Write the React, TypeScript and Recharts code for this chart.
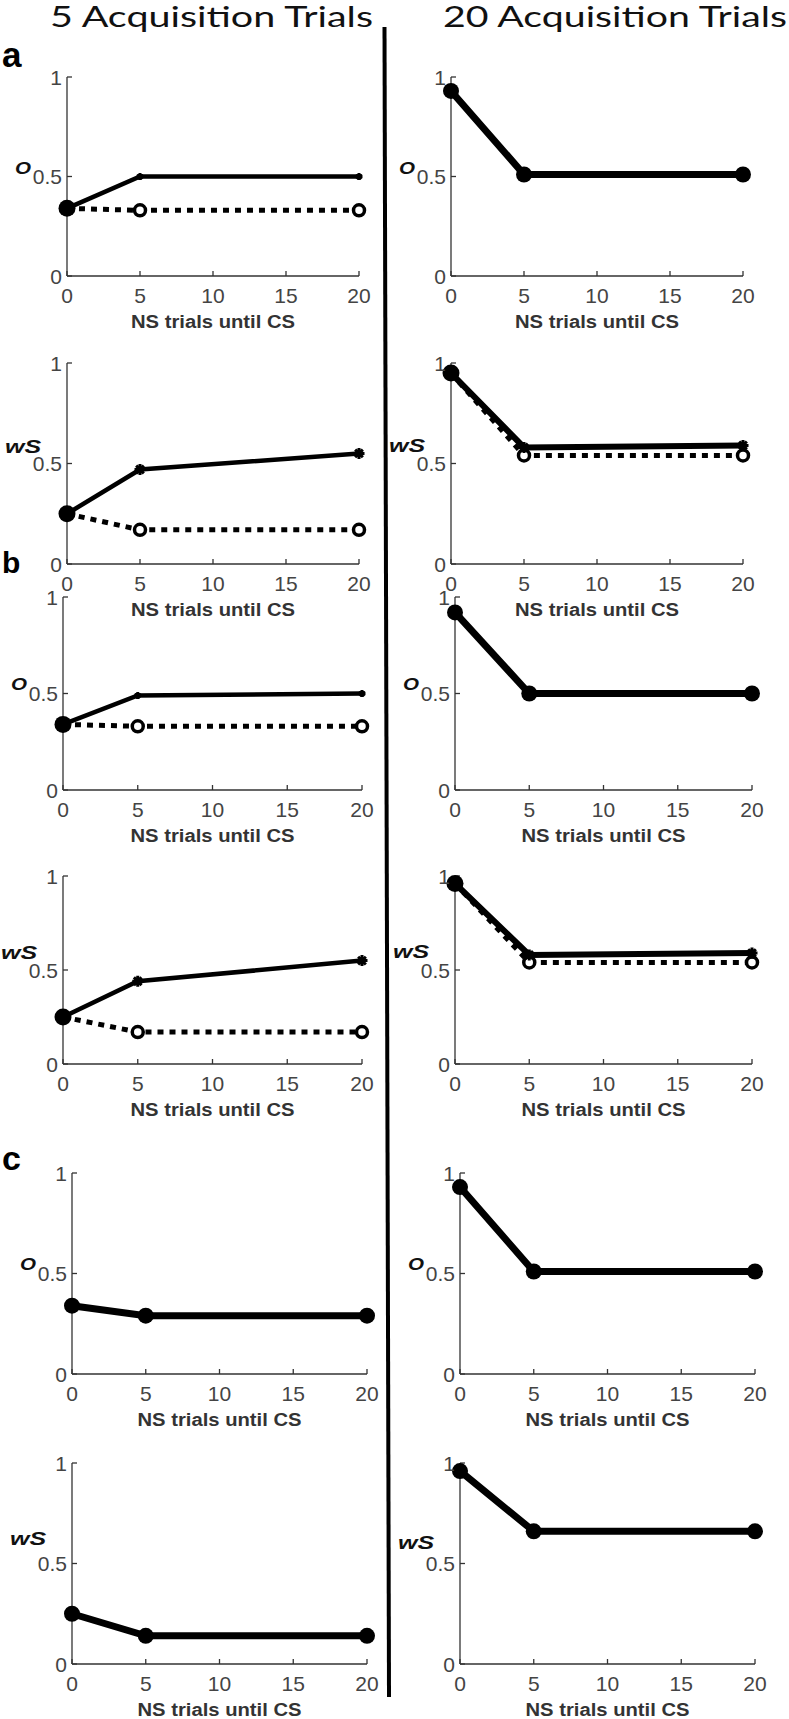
import React from "react";
import { LineChart, Line, XAxis, YAxis } from "recharts";

// x positions (NS trials until CS) and axis ticks
const trials = [0, 5, 20];
const xTicks = [0, 5, 10, 15, 20];
const yTicks = [0, 0.5, 1];
const columnTitles = ["5 Acquisition Trials", "20 Acquisition Trials"];
const panelLetters = ["a", "b", "c"];
const xLabel = "NS trials until CS";

// a
const aO5Solid = [0.34, 0.5, 0.5];
const aO5Dotted = [0.34, 0.33, 0.33];
const aWs5Solid = [0.25, 0.47, 0.55];
const aWs5Dotted = [0.25, 0.17, 0.17];
const aO20Solid = [0.93, 0.51, 0.51];
const aWs20Solid = [0.95, 0.58, 0.59];
const aWs20Dotted = [0.95, 0.54, 0.54];

// b
const bO5Solid = [0.34, 0.49, 0.5];
const bO5Dotted = [0.34, 0.33, 0.33];
const bWs5Solid = [0.25, 0.44, 0.55];
const bWs5Dotted = [0.25, 0.17, 0.17];
const bO20Solid = [0.92, 0.5, 0.5];
const bWs20Solid = [0.96, 0.58, 0.59];
const bWs20Dotted = [0.96, 0.54, 0.54];

// c
const cO5Solid = [0.34, 0.29, 0.29];
const cWs5Solid = [0.25, 0.14, 0.14];
const cO20Solid = [0.93, 0.51, 0.51];
const cWs20Solid = [0.96, 0.66, 0.66];

const SANS = "'Liberation Sans', Arial, sans-serif";

const panels = [
  { box: [67, 359, 77, 276], yLabel: "O", dy: -9, solid: aO5Solid, dotted: aO5Dotted, kind: "short", star: 3.5 },
  { box: [451, 743, 77, 276], yLabel: "O", dy: -9, solid: aO20Solid, kind: "thick" },
  { box: [67, 359, 363, 564], yLabel: "wS", dy: -18, solid: aWs5Solid, dotted: aWs5Dotted, kind: "short", star: 5.5 },
  { box: [451, 743, 363, 564], yLabel: "wS", dy: -19, solid: aWs20Solid, dotted: aWs20Dotted, kind: "pair", star: 5.5 },
  { box: [63, 362, 597, 790], yLabel: "O", dy: -10, solid: bO5Solid, dotted: bO5Dotted, kind: "short", star: 3.5 },
  { box: [455, 752, 597, 790], yLabel: "O", dy: -10, solid: bO20Solid, kind: "thick" },
  { box: [63, 362, 876, 1064], yLabel: "wS", dy: -18, solid: bWs5Solid, dotted: bWs5Dotted, kind: "short", star: 5.5 },
  { box: [455, 752, 876, 1064], yLabel: "wS", dy: -19, solid: bWs20Solid, dotted: bWs20Dotted, kind: "pair", star: 5.5 },
  { box: [72, 367, 1173, 1374], yLabel: "O", dy: -10, solid: cO5Solid, kind: "thick" },
  { box: [460, 755, 1173, 1374], yLabel: "O", dy: -10, solid: cO20Solid, kind: "thick" },
  { box: [72, 367, 1463, 1664], yLabel: "wS", dy: -26, solid: cWs5Solid, kind: "thick" },
  { box: [460, 755, 1463, 1664], yLabel: "wS", dy: -22, solid: cWs20Solid, kind: "thick" },
];

function XTitle(props: any) {
  const vb = props.viewBox || {};
  return (
    <text
      x={vb.x + vb.width / 2}
      y={vb.y + 52}
      textAnchor="middle"
      fill="#333"
      fontSize={18}
      fontWeight="bold"
      fontFamily={SANS}
      textLength={164}
      lengthAdjust="spacingAndGlyphs"
    >
      {xLabel}
    </text>
  );
}

function YTitle(props: any) {
  const vb = props.viewBox || {};
  const isO = props.text === "O";
  return (
    <text
      x={vb.x + vb.width - 44}
      y={vb.y + vb.height / 2 + props.dy + (isO ? 6 : 7)}
      textAnchor="middle"
      fill="#111"
      fontSize={isO ? 17 : 19}
      fontWeight="bold"
      fontStyle="italic"
      fontFamily={SANS}
      textLength={isO ? 16 : 36}
      lengthAdjust="spacingAndGlyphs"
    >
      {props.text}
    </text>
  );
}

const XTick = (props: any) => (
  <text x={props.x} y={props.y + 15} textAnchor="middle" fill="#444" fontSize={21} fontFamily={SANS}>
    {props.payload.value}
  </text>
);

const YTick = (props: any) => (
  <text x={props.x} y={props.y + 7.5} textAnchor="end" fill="#444" fontSize={21} fontFamily={SANS}>
    {String(props.payload.value)}
  </text>
);

const star = (cx: number, cy: number, s: number, key: any) => {
  const d = s * 0.7;
  return (
    <path
      key={key}
      d={`M${cx - s},${cy}H${cx + s}M${cx},${cy - s}V${cy + s}M${cx - d},${cy - d}L${cx + d},${cy + d}M${cx - d},${cy + d}L${cx + d},${cy - d}`}
      stroke="#000"
      strokeWidth={3}
    />
  );
};

const leadDot = (s: number) => (p: any) =>
  p.index === 0 ? (
    <circle key={p.index} cx={p.cx} cy={p.cy} r={8.5} fill="#000" />
  ) : (
    star(p.cx, p.cy, s, p.index)
  );

const filledDot = (p: any) => <circle key={p.index} cx={p.cx} cy={p.cy} r={8} fill="#000" />;

const openDot = (p: any) => (
  <circle key={p.index} cx={p.cx} cy={p.cy} r={5.5} fill="#fff" stroke="#000" strokeWidth={3.5} />
);

function Panel({ p }: { p: any }) {
  const [x0, x1, top, bottom] = p.box;
  const yW = 65;
  const xH = 62;
  const mt = 20;
  const mr = 30;
  const data = trials.map((x, i) => ({
    x,
    solid: p.solid[i],
    dotted: p.dotted ? p.dotted[i] : undefined,
  }));
  return (
    <div style={{ position: "absolute", left: x0 - yW, top: top - mt }}>
      <LineChart
        width={x1 - x0 + yW + mr}
        height={bottom - top + mt + xH}
        data={data}
        margin={{ top: mt, right: mr, bottom: 0, left: 0 }}
      >
        <XAxis
          type="number"
          dataKey="x"
          domain={[0, 20]}
          ticks={xTicks}
          height={xH}
          tickSize={-5}
          tickMargin={17}
          stroke="#333"
          strokeWidth={1.3}
          tick={XTick}
          label={<XTitle />}
        />
        <YAxis
          type="number"
          domain={[0, 1]}
          ticks={yTicks}
          width={yW}
          tickSize={-5}
          tickMargin={10}
          stroke="#333"
          strokeWidth={1.3}
          tick={YTick}
          label={<YTitle text={p.yLabel} dy={p.dy} />}
        />
        {p.dotted && (
          <Line
            type="linear"
            dataKey="dotted"
            stroke="#000"
            strokeWidth={5}
            strokeDasharray="6 6"
            dot={openDot}
            activeDot={false}
            isAnimationActive={false}
          />
        )}
        <Line
          type="linear"
          dataKey="solid"
          stroke="#000"
          strokeWidth={p.kind === "short" ? 4.5 : p.kind === "pair" ? 6 : 7}
          dot={p.kind === "thick" ? filledDot : leadDot(p.star)}
          activeDot={false}
          isAnimationActive={false}
        />
      </LineChart>
    </div>
  );
}

export default function App() {
  return (
    <div
      style={{
        position: "absolute",
        left: 0,
        top: 0,
        width: 789,
        height: 1719,
        background: "#fff",
        overflow: "hidden",
      }}
    >
      <svg width={789} height={1719} style={{ position: "absolute", left: 0, top: 0 }}>
        <text x={50} y={27} fontSize={28} fontFamily="Lato, 'Open Sans', sans-serif" fill="#111" textLength={323} lengthAdjust="spacingAndGlyphs">
          {columnTitles[0]}
        </text>
        <text x={443} y={27} fontSize={28} fontFamily="Lato, 'Open Sans', sans-serif" fill="#111" textLength={344} lengthAdjust="spacingAndGlyphs">
          {columnTitles[1]}
        </text>
        <text x={2} y={67} fontSize={35} fontWeight="bold" fontFamily={SANS} fill="#000">
          {panelLetters[0]}
        </text>
        <text x={2} y={573} fontSize={30} fontWeight="bold" fontFamily={SANS} fill="#000">
          {panelLetters[1]}
        </text>
        <text x={2} y={1170} fontSize={34} fontWeight="bold" fontFamily={SANS} fill="#000">
          {panelLetters[2]}
        </text>
        <line x1={384.5} y1={27} x2={389} y2={1697} stroke="#000" strokeWidth={4} />
      </svg>
      {panels.map((p, i) => (
        <Panel key={i} p={p} />
      ))}
    </div>
  );
}
